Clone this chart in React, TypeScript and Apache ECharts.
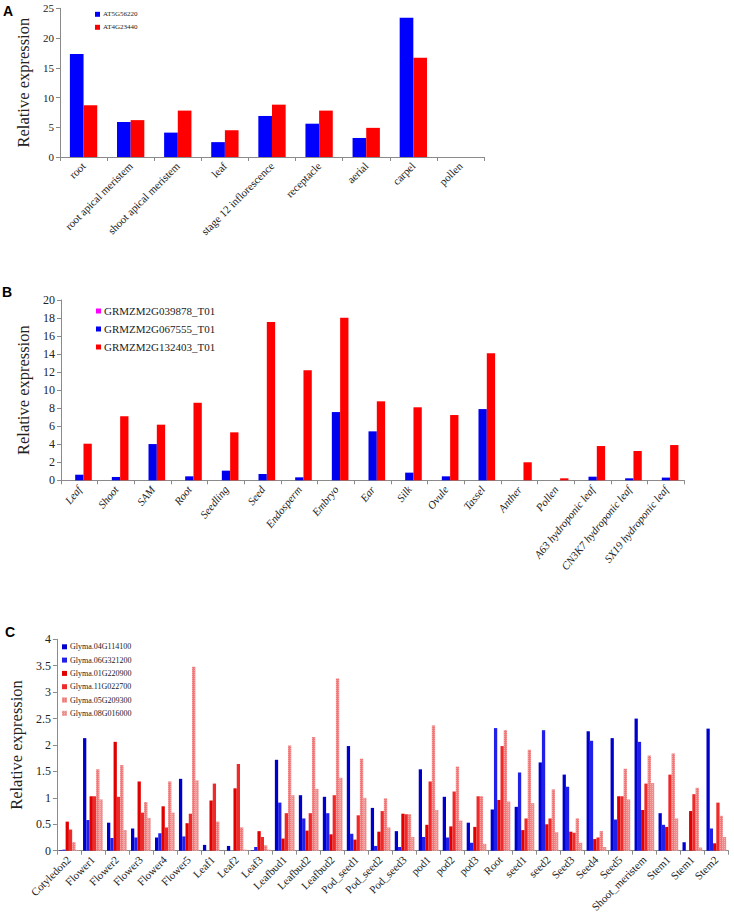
import React, { useEffect, useRef } from "react";
import * as echarts from "echarts";

// ---------- Panel A ----------
const catsA = [
  "root",
  "root apical meristem",
  "shoot apical meristem",
  "leaf",
  "stage 12 inflorescence",
  "receptacle",
  "aerial",
  "carpel",
  "pollen",
];
const namesA = ["AT5G56220", "AT4G23440"];
const valsA1 = [17.3, 5.9, 4.1, 2.5, 6.9, 5.6, 3.2, 23.4, 0];
const valsA2 = [8.7, 6.2, 7.8, 4.5, 8.8, 7.8, 4.9, 16.7, 0];
const colorsA = ["#0000FF", "#FF0000"];

// ---------- Panel B ----------
const catsB = [
  "Leaf",
  "Shoot",
  "SAM",
  "Root",
  "Seedling",
  "Seed",
  "Endosperm",
  "Embryo",
  "Ear",
  "Silk",
  "Ovule",
  "Tassel",
  "Anther",
  "Pollen",
  "A63 hydroponic leaf",
  "CN3K7 hydroponic leaf",
  "SX19 hydroponic leaf",
];
const namesB = ["GRMZM2G039878_T01", "GRMZM2G067555_T01", "GRMZM2G132403_T01"];
const valsB1 = [0, 0, 0, 0, 0, 0, 0, 0, 0, 0, 0, 0, 0, 0, 0, 0, 0];
const valsB2 = [0.62, 0.37, 4.02, 0.44, 1.07, 0.7, 0.33, 7.57, 5.43, 0.85, 0.44, 7.9, 0, 0, 0.4, 0.22, 0.3];
const valsB3 = [4.06, 7.1, 6.17, 8.6, 5.32, 17.55, 12.2, 18.03, 8.76, 8.1, 7.24, 14.08, 2.0, 0.22, 3.8, 3.25, 3.91];
const colorsB = ["#FF00FF", "#0000EE", "#FF0000"];

// ---------- Panel C ----------
const catsC = [
  "Cotyledon2",
  "Flower1",
  "Flower2",
  "Flower3",
  "Flower4",
  "Flower5",
  "Leaf1",
  "Leaf2",
  "Leaf3",
  "Leafbud1",
  "Leafbud2",
  "Leafbud2",
  "Pod_seed1",
  "Pod_seed2",
  "Pod_seed3",
  "pod1",
  "pod2",
  "pod3",
  "Root",
  "seed1",
  "seed2",
  "Seed3",
  "Seed4",
  "Seed5",
  "Shoot_meristem",
  "Stem1",
  "Stem1",
  "Stem2",
];
const namesC = [
  "Glyma.04G114100",
  "Glyma.06G321200",
  "Glyma.01G220900",
  "Glyma.11G022700",
  "Glyma.05G209300",
  "Glyma.08G016000",
];
const valsC1 = [0.01, 2.13, 0.53, 0.42, 0.25, 1.36, 0.11, 0.09, 0.01, 1.72, 1.05, 1.02, 1.98, 0.81, 0.37, 1.54, 1.02, 0.53, 0.78, 0.83, 1.67, 1.44, 2.26, 2.13, 2.5, 0.71, 0.16, 2.31];
const valsC2 = [0.02, 0.58, 0.24, 0.25, 0.33, 0.27, 0, 0, 0.07, 0.91, 0.61, 0.71, 0.32, 0.09, 0.07, 0.26, 0.25, 0.15, 2.32, 1.48, 2.28, 1.21, 2.08, 0.59, 2.06, 0.49, 0, 0.42];
const valsC3 = [0.55, 1.03, 2.06, 1.31, 0.84, 0.52, 0.95, 1.18, 0.37, 0.23, 0.38, 0.31, 0.21, 0.36, 0.7, 0.49, 0.46, 0.45, 0.96, 0.39, 0.5, 0.36, 0.22, 1.03, 0.77, 0.45, 0.75, 0.14];
const valsC4 = [0.4, 1.03, 1.02, 0.72, 0.44, 0.7, 1.27, 1.64, 0.26, 0.71, 0.71, 1.05, 0.67, 0.75, 0.69, 1.31, 1.12, 1.03, 1.98, 0.61, 0.61, 0.34, 0.25, 1.03, 1.27, 1.44, 1.07, 0.91];
const valsC5 = [0.16, 1.54, 1.62, 0.92, 1.31, 3.48, 0.55, 0.44, 0.1, 1.99, 2.15, 3.26, 1.74, 0.99, 0.69, 2.37, 1.59, 1.03, 2.28, 1.91, 1.16, 0.61, 0.37, 1.55, 1.8, 1.84, 1.19, 0.66];
const valsC6 = [0.01, 0.97, 0.39, 0.62, 0.72, 1.33, 0, 0.02, 0.02, 1.05, 1.17, 1.38, 1.0, 0.44, 0.26, 0.77, 0.57, 0.13, 0.93, 0.9, 0.35, 0.15, 0.07, 0.97, 1.28, 0.61, 0.06, 0.26];
const colorsC = ["#0000CC", "#2020E8", "#E00000", "#EE2A2A", "#F07878", "#EC8C8C"];

const SERIF = "Liberation Serif";
const SANS = "Liberation Sans";
const AXIS_COLOR = "#8a8a8a";
const TEXT_COLOR = "#222";

export default function App() {
  const ref = useRef<HTMLDivElement>(null);

  useEffect(() => {
    document.body.style.margin = "0";
    if (!ref.current) return;
    const chart = echarts.init(ref.current, undefined, { renderer: "svg" });

    const grids = [
      { left: 60, top: 8.3, width: 424, height: 148.7 },
      { left: 61, top: 300, width: 623.3, height: 180.3 },
      { left: 50, top: 639.3, width: 678.3, height: 211.4 },
    ];

    const xAxisBase = (gridIndex: number, data: string[], rotate: number, italic: boolean) => ({
      type: "category",
      gridIndex,
      data,
      axisLine: { show: true, lineStyle: { color: AXIS_COLOR, width: 1 } },
      axisTick: { show: true, length: 4, interval: 0, lineStyle: { color: AXIS_COLOR } },
      axisLabel: {
        interval: 0,
        rotate,
        margin: 7,
        color: TEXT_COLOR,
        fontFamily: SERIF,
        fontSize: 11,
        fontStyle: italic ? "italic" : "normal",
      },
      splitLine: { show: false },
    });

    const yAxisBase = (gridIndex: number, max: number, interval: number, fontSize: number, nameGap: number) => ({
      type: "value",
      gridIndex,
      min: 0,
      max,
      interval,
      name: "Relative expression",
      nameLocation: "middle",
      nameGap,
      nameTextStyle: { fontFamily: SERIF, fontSize: 16.5, color: TEXT_COLOR },
      axisLine: { show: true, lineStyle: { color: AXIS_COLOR, width: 1 } },
      axisTick: { show: true, length: 4, lineStyle: { color: AXIS_COLOR } },
      axisLabel: { color: TEXT_COLOR, fontFamily: SERIF, fontSize, margin: 6 },
      splitLine: { show: false },
    });

    const seriesA = [valsA1, valsA2].map((d, i) => ({
      type: "bar",
      name: namesA[i],
      xAxisIndex: 0,
      yAxisIndex: 0,
      data: d,
      barGap: "0%",
      barCategoryGap: "42%",
      itemStyle: { color: colorsA[i] },
    }));

    const seriesB = [valsB1, valsB2, valsB3].map((d, i) => ({
      type: "bar",
      name: namesB[i],
      xAxisIndex: 1,
      yAxisIndex: 1,
      data: d,
      barGap: "0%",
      barCategoryGap: "32%",
      itemStyle: { color: colorsB[i] },
    }));

    const seriesC = [valsC1, valsC2, valsC3, valsC4, valsC5, valsC6].map((d, i) => ({
      type: "bar",
      name: namesC[i],
      xAxisIndex: 2,
      yAxisIndex: 2,
      data: d,
      barGap: "0%",
      barCategoryGap: "18%",
      itemStyle: {
        color: colorsC[i],
        ...(i >= 4
          ? {
              decal: {
                symbol: "rect",
                symbolSize: 1,
                dashArrayX: [1, 1],
                dashArrayY: [1, 1],
                color: "rgba(255,255,255,0.35)",
              },
            }
          : {}),
      },
    }));

    const legendBase = (data: string[], left: number, top: number, fontSize: number, lineHeight: number, itemGap: number) => ({
      orient: "vertical",
      left,
      top,
      padding: 0,
      itemGap,
      itemWidth: 5,
      itemHeight: 5,
      icon: "rect",
      data,
      selectedMode: false,
      textStyle: { fontFamily: SERIF, fontSize, lineHeight, color: TEXT_COLOR, padding: [0, 0, 0, -2] },
    });

    const option = {
      animation: false,
      backgroundColor: "#ffffff",
      textStyle: { fontFamily: SERIF },
      grid: grids,
      xAxis: [
        xAxisBase(0, catsA, 45, false),
        xAxisBase(1, catsB, 51, true),
        xAxisBase(2, catsC, 45, false),
      ],
      yAxis: [
        yAxisBase(0, 25, 5, 11, 25),
        yAxisBase(1, 20, 2, 12, 26),
        yAxisBase(2, 4, 0.5, 12, 29),
      ],
      legend: [
        legendBase(namesA, 95, 10.3, 7, 8, 5),
        legendBase(namesB, 96, 305, 11, 12, 6),
        legendBase(namesC, 62, 642.3, 8, 9, 4.3),
      ],
      graphic: [
        { type: "text", left: 3, top: 4, style: { text: "A", fontFamily: SANS, fontWeight: "bold", fontSize: 14, fill: "#000" } },
        { type: "text", left: 2, top: 285, style: { text: "B", fontFamily: SANS, fontWeight: "bold", fontSize: 14, fill: "#000" } },
        { type: "text", left: 5, top: 625, style: { text: "C", fontFamily: SANS, fontWeight: "bold", fontSize: 14, fill: "#000" } },
      ],
      series: [...seriesA, ...seriesB, ...seriesC],
    };

    chart.setOption(option as any);
    return () => {
      chart.dispose();
    };
  }, []);

  return <div ref={ref} style={{ width: 734, height: 922, position: "absolute", left: 0, top: 0 }} />;
}
